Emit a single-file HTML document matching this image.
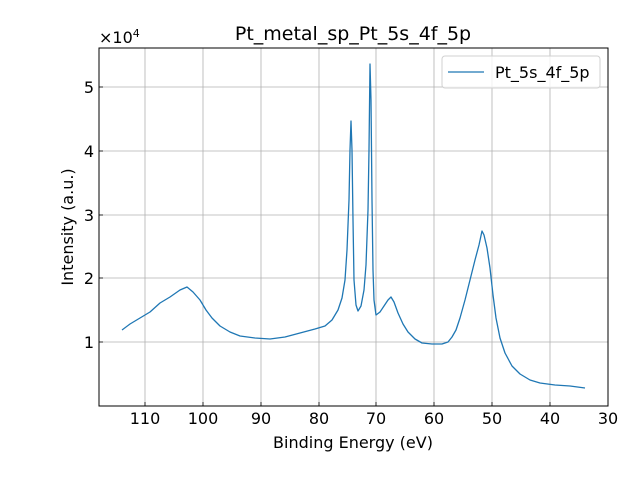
<!DOCTYPE html>
<html><head><style>body{margin:0;background:#fff}svg{display:block;font-family:"DejaVu Sans","Liberation Sans",sans-serif}</style></head><body>
<svg width="640" height="480" viewBox="0 0 640 480">
<g stroke="#b0b0b0" stroke-width="0.8">
<line x1="145" y1="48" x2="145" y2="406"/><line x1="203" y1="48" x2="203" y2="406"/><line x1="261" y1="48" x2="261" y2="406"/><line x1="319" y1="48" x2="319" y2="406"/><line x1="376" y1="48" x2="376" y2="406"/><line x1="434" y1="48" x2="434" y2="406"/><line x1="492" y1="48" x2="492" y2="406"/><line x1="550" y1="48" x2="550" y2="406"/>
<line x1="99" y1="342" x2="608" y2="342"/><line x1="99" y1="278" x2="608" y2="278"/><line x1="99" y1="215" x2="608" y2="215"/><line x1="99" y1="151" x2="608" y2="151"/><line x1="99" y1="87" x2="608" y2="87"/>
</g>
<polyline fill="none" stroke="#1f77b4" stroke-width="1.3" stroke-linejoin="round" points="122,330 130,324 140,318 150,312 160,303 170,297 180,290 187,287 193,292 200,300 206,310 212,318 220,326 230,332 240,336 255,338 270,339 285,337 300,333 315,329 325,326 332,320 338,310 342,298 345,280 347,250 349,200 350,150 351,121 352,150 353,220 354,280 356,305 358,311 361,306 364,290 366,265 368,210 369,150 370,64 371,100 372,200 373,270 374,300 376,315 380,312 384,306 388,300 391,297 394,302 398,313 403,324 408,332 415,339 422,343 432,344 442,344 448,342 452,337 456,330 460,318 465,300 470,280 475,260 479,245 482,231 484,235 487,248 490,268 493,295 496,318 500,338 505,353 512,366 520,374 530,380 540,383 555,385 570,386 585,388"/>
<rect x="99" y="48" width="509" height="358" fill="none" stroke="#000" stroke-width="1"/>
<g stroke="#000" stroke-width="0.8">
<line x1="145" y1="406" x2="145" y2="402"/><line x1="203" y1="406" x2="203" y2="402"/><line x1="261" y1="406" x2="261" y2="402"/><line x1="319" y1="406" x2="319" y2="402"/><line x1="376" y1="406" x2="376" y2="402"/><line x1="434" y1="406" x2="434" y2="402"/><line x1="492" y1="406" x2="492" y2="402"/><line x1="550" y1="406" x2="550" y2="402"/>
<line x1="99" y1="342" x2="103" y2="342"/><line x1="99" y1="278" x2="103" y2="278"/><line x1="99" y1="215" x2="103" y2="215"/><line x1="99" y1="151" x2="103" y2="151"/><line x1="99" y1="87" x2="103" y2="87"/>
</g>
<g font-size="16" fill="#000" text-anchor="middle">
<text x="145" y="424">110</text><text x="203" y="424">100</text><text x="261" y="424">90</text><text x="319" y="424">80</text><text x="376" y="424">70</text><text x="434" y="424">60</text><text x="492" y="424">50</text><text x="550" y="424">40</text><text x="608" y="424">30</text>
</g>
<g font-size="16" fill="#000" text-anchor="end">
<text x="94" y="348">1</text><text x="94" y="284">2</text><text x="94" y="221">3</text><text x="94" y="157">4</text><text x="94" y="93">5</text>
</g>
<text x="99" y="43" font-size="16">×10<tspan font-size="11" dy="-6">4</tspan></text>
<text x="353" y="40" font-size="19" text-anchor="middle">Pt_metal_sp_Pt_5s_4f_5p</text>
<text x="353" y="448" font-size="16" text-anchor="middle">Binding Energy (eV)</text>
<text transform="translate(73,227) rotate(-90)" font-size="16" text-anchor="middle">Intensity (a.u.)</text>
<rect x="442" y="56" width="158" height="32" rx="3" fill="#fff" fill-opacity="0.8" stroke="#d0d0d0"/>
<line x1="448" y1="72" x2="484" y2="72" stroke="#1f77b4" stroke-width="1.3"/>
<text x="495" y="78" font-size="16">Pt_5s_4f_5p</text>
</svg>
</body></html>
